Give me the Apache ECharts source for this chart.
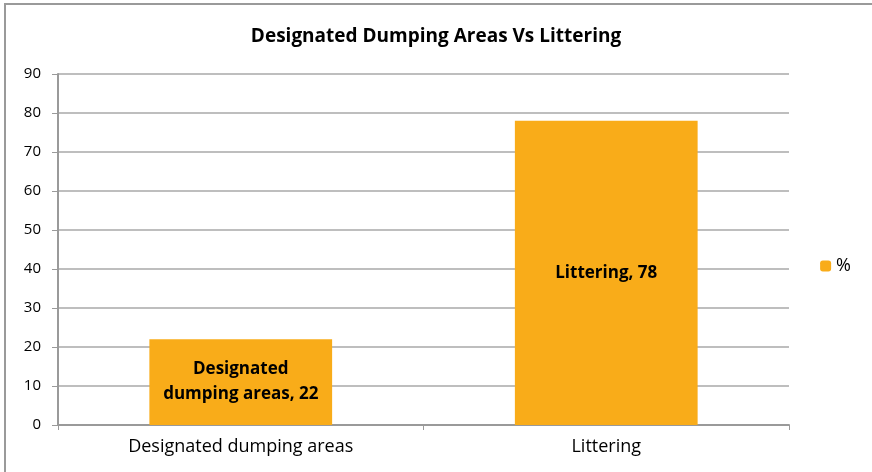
<!DOCTYPE html>
<html>
<head>
<meta charset="utf-8">
<style>
  html, body { margin: 0; padding: 0; background: #fff; }
  #chart { width: 872px; height: 472px; }
</style>
<script src="https://cdn.jsdelivr.net/npm/echarts@6/dist/echarts.min.js"></script>
</head>
<body>
<div id="chart"></div>
<script>
const categories = ["Designated dumping areas", "Littering"];
const barLabels = ["Designated\ndumping areas", "Littering"];
const percentValues = [22, 78];
const yTicks = [0, 10, 20, 30, 40, 50, 60, 70, 80, 90];

const font = "'Open Sans', Lato, sans-serif";
const chart = echarts.init(document.getElementById("chart"), null, { renderer: "canvas" });

chart.setOption({
  animation: false,
  backgroundColor: "#fff",
  title: {
    text: "Designated Dumping Areas Vs Littering",
    left: "center",
    top: 22,
    textStyle: { fontFamily: font, fontSize: 19, fontWeight: "bold", color: "#000" }
  },
  graphic: [{
    type: "rect",
    shape: { x: 5, y: 4, width: 880, height: 480 },
    style: { fill: "none", stroke: "#9a9a9a", lineWidth: 2 },
    silent: true
  }],
  legend: {
    right: 16,
    top: 252,
    itemWidth: 11,
    itemHeight: 11,
    itemGap: 6,
    textStyle: { fontFamily: font, fontSize: 18, color: "#000" },
    data: ["%"]
  },
  grid: { left: 58, right: 83, top: 74, bottom: 47, containLabel: false },
  xAxis: {
    type: "category",
    data: categories,
    axisLine: { lineStyle: { color: "#9a9a9a", width: 2 } },
    axisTick: { show: true, length: 5, lineStyle: { color: "#9a9a9a", width: 1 } },
    axisLabel: { fontFamily: font, fontSize: 18, color: "#000", margin: 13 }
  },
  yAxis: {
    type: "value",
    min: yTicks[0],
    max: yTicks[yTicks.length - 1],
    interval: 10,
    axisLine: { show: true, lineStyle: { color: "#9a9a9a", width: 2 } },
    axisTick: { show: true, length: 6, lineStyle: { color: "#9a9a9a" } },
    axisLabel: { fontFamily: font, fontSize: 15, color: "#000", margin: 17 },
    splitLine: { lineStyle: { color: "#a8a8a8", width: 1.5 } }
  },
  series: [{
    name: "%",
    type: "bar",
    data: percentValues,
    barWidth: "50%",
    itemStyle: { color: "#F9AC19" },
    label: {
      show: true,
      position: "inside",
      fontFamily: font,
      fontSize: 17,
      fontWeight: "bold",
      color: "#000",
      lineHeight: 25,
      formatter: p => barLabels[p.dataIndex] + ", " + p.value
    }
  }]
});
</script>
</body>
</html>
